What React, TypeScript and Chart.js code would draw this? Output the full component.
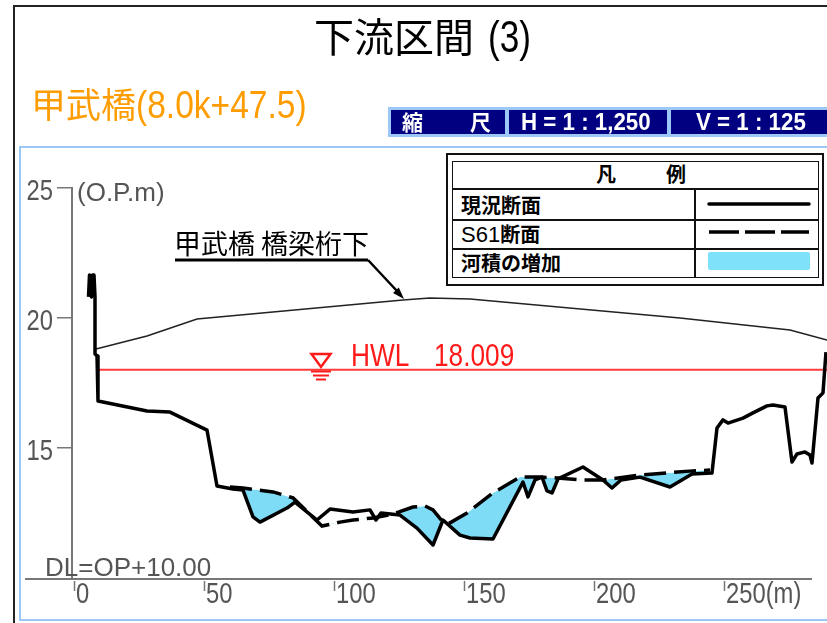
import React, { useEffect, useRef } from 'react';
import { Chart, registerables } from 'chart.js';
Chart.register(...registerables);

// ---- data (m, O.P.m) ----
const currentX = [5.58, 5.96, 6.73, 7.12, 7.69, 8.08, 8.08, 8.85, 9.23, 28.08, 36.92, 51.15, 55.0, 61.15, 65.0, 68.85, 71.54, 81.92, 85.0, 93.46, 98.46, 107.31, 113.85, 116.15, 118.08, 125.38, 131.92, 138.08, 141.92, 148.46, 152.31, 161.15, 172.69, 174.62, 177.31, 180.0, 181.92, 183.85, 186.15, 195.77, 203.46, 206.92, 210.38, 217.69, 229.23, 237.69, 245.38, 247.31, 249.62, 251.54, 257.31, 261.15, 266.54, 268.85, 273.46, 276.15, 278.08, 281.15, 283.08, 283.85, 286.15, 288.08, 289.23];
const currentY = [20.81, 21.65, 20.81, 21.65, 21.65, 20.81, 18.62, 18.54, 16.81, 16.42, 16.38, 15.69, 13.54, 13.42, 13.38, 12.35, 12.15, 12.69, 12.92, 12.23, 12.65, 12.54, 12.62, 12.23, 12.5, 12.42, 11.92, 11.27, 12.23, 11.65, 11.54, 11.5, 13.69, 13.12, 13.77, 13.88, 13.35, 13.27, 13.81, 14.27, 13.77, 13.46, 13.77, 13.88, 13.5, 14.0, 14.04, 15.77, 16.08, 15.96, 16.15, 16.35, 16.62, 16.65, 16.58, 14.46, 14.77, 14.85, 14.73, 14.42, 16.92, 17.12, 18.69];
const s61X = [60.0, 65.0, 76.54, 84.23, 95.38, 102.31, 107.31, 115.0, 122.69, 130.38, 135.0, 138.08, 141.92, 144.62, 151.15, 161.15, 171.54, 179.23, 185.77, 195.38, 203.46, 217.69, 238.08, 244.62];
const s61Y = [13.5, 13.46, 13.31, 13.08, 12.0, 12.15, 12.23, 12.31, 12.46, 12.73, 12.77, 12.62, 12.15, 12.12, 12.5, 13.27, 13.88, 13.88, 13.85, 13.77, 13.77, 13.96, 14.12, 14.15];
const bridgeX = [8.46, 28.08, 47.31, 126.54, 136.92, 152.31, 233.08, 275.38, 289.62];
const bridgeY = [18.81, 19.31, 19.96, 20.69, 20.77, 20.73, 20.0, 19.54, 19.15];
const HWL = 18.009;
const hwlX = [9.23, 289.62];
const xTicks = [0, 50, 100, 150, 200, 250];
const yTicks = [15, 20, 25];
const xTickLabels = ['0', '50', '100', '150', '200', '250(m)'];
const xAxisRange = [-18.85, 283.85];

const BLUE = '#7fdcf7';
const CJK = "'Noto Sans CJK JP', sans-serif";
const SANS = "'Liberation Sans', Arial, 'Noto Sans CJK JP', sans-serif";
const GRAY = '#555';
const NARROW_SCALE = 0.82;

const pts = (xs: number[], ys: number[]) => xs.map((x, i) => ({ x, y: ys[i] }));

const axisPlugin = {
  id: 'axisLines',
  afterDraw(chart: any) {
    const { ctx, scales, chartArea } = chart;
    const x = scales.x, y = scales.y;
    const y0 = y.getPixelForValue(10) + 1;
    ctx.save();
    ctx.strokeStyle = '#777';
    ctx.lineWidth = 2;
    ctx.beginPath();
    ctx.moveTo(x.getPixelForValue(xAxisRange[0]), y0);
    ctx.lineTo(x.getPixelForValue(xAxisRange[1]), y0);
    ctx.stroke();
    ctx.lineWidth = 1.5;
    xTicks.forEach((v) => {
      const px = Math.round(x.getPixelForValue(v)) + 0.5;
      ctx.beginPath();
      ctx.moveTo(px, y0 + 2);
      ctx.lineTo(px, y0 + 12);
      ctx.stroke();
    });
    // tick labels (condensed)
    ctx.fillStyle = GRAY;
    ctx.font = `29px ${SANS}`;
    ctx.textBaseline = 'alphabetic';
    xTicks.forEach((v, i) => {
      const px = x.getPixelForValue(v);
      ctx.save();
      ctx.translate(px + 2, y0 + 24);
      ctx.scale(NARROW_SCALE, 1);
      ctx.textAlign = 'left';
      ctx.fillText(xTickLabels[i], 0, 0);
      ctx.restore();
    });
    yTicks.forEach((v) => {
      const py = y.getPixelForValue(v);
      ctx.save();
      ctx.translate(chartArea.left - 19, py + 12);
      ctx.scale(NARROW_SCALE, 1);
      ctx.textAlign = 'right';
      ctx.fillText(String(v), 0, 0);
      ctx.restore();
    });
    ctx.restore();
  },
};

const abs = (s: React.CSSProperties): React.CSSProperties => ({ position: 'absolute', whiteSpace: 'nowrap', lineHeight: 1, ...s });
const narrow = (scale: number): React.CSSProperties => ({ display: 'inline-block', transform: `scaleX(${scale})`, transformOrigin: 'left center' });

export default function App() {
  const ref = useRef<HTMLCanvasElement>(null);
  useEffect(() => {
    const chart = new Chart(ref.current!, {
      type: 'line',
      data: {
        datasets: [
          {
            label: '現況断面',
            data: pts(currentX, currentY),
            borderColor: '#000',
            borderWidth: 3.5,
            pointRadius: 0,
            tension: 0,
            borderJoinStyle: 'round',
            fill: { target: 1, above: 'rgba(0,0,0,0)', below: BLUE },
          },
          {
            label: 'S61断面',
            data: pts(s61X, s61Y),
            borderColor: '#000',
            borderWidth: 3.5,
            borderDash: [22, 8],
            pointRadius: 0,
            tension: 0,
            fill: false,
          },
          {
            label: '甲武橋 橋梁桁下',
            data: pts(bridgeX, bridgeY),
            borderColor: '#222',
            borderWidth: 1.6,
            pointRadius: 0,
            tension: 0,
            fill: false,
          },
          {
            label: 'HWL',
            data: hwlX.map((x) => ({ x, y: HWL })),
            borderColor: '#ff3b3b',
            borderWidth: 2,
            pointRadius: 0,
            fill: false,
          },
        ],
      } as any,
      options: {
        animation: false,
        responsive: false,
        devicePixelRatio: 1,
        layout: { padding: { left: 0, right: 0, top: 188, bottom: 0 } },
        plugins: {
          legend: { display: false },
          tooltip: { enabled: false },
          filler: { drawTime: 'beforeDatasetsDraw' },
        } as any,
        scales: {
          x: {
            type: 'linear',
            min: -0.769,
            max: 289.62,
            afterBuildTicks: (s: any) => { s.ticks = xTicks.map((v) => ({ value: v })); },
            afterFit: (s: any) => { s.height = 45; },
            grid: { display: false, drawTicks: false },
            border: { display: false },
            ticks: { display: false },
          },
          y: {
            type: 'linear',
            min: 10,
            max: 25,
            afterBuildTicks: (s: any) => { s.ticks = yTicks.map((v) => ({ value: v })); },
            afterFit: (s: any) => { s.width = 72; },
            grid: { drawOnChartArea: false, drawTicks: true, tickLength: 15, color: '#777', lineWidth: 1.5 },
            border: { display: true, color: '#777', width: 2 },
            ticks: { display: false },
          },
        } as any,
      },
      plugins: [axisPlugin],
    });
    return () => chart.destroy();
  }, []);

  return (
    <div style={{ position: 'absolute', left: 0, top: 0, width: 827, height: 623, overflow: 'hidden', background: '#fff' }}>
      {/* frames */}
      <div style={{ position: 'absolute', left: 13, top: 5, width: 2, height: 640, background: '#222' }} />
      <div style={{ position: 'absolute', left: 13, top: 5, width: 840, height: 2, background: '#222' }} />
      <div style={{ position: 'absolute', left: 19, top: 146, width: 2, height: 475, background: '#9cc8f8' }} />
      <div style={{ position: 'absolute', left: 19, top: 146, width: 840, height: 2, background: '#9cc8f8' }} />
      <div style={{ position: 'absolute', left: 19, top: 619, width: 840, height: 2, background: '#9cc8f8' }} />

      <canvas ref={ref} width={827} height={623} style={{ position: 'absolute', left: 0, top: 0, width: 827, height: 623 }} />

      {/* title */}
      <div style={abs({ left: 314, top: 15, fontSize: 40, fontFamily: CJK, color: '#000' })}>
        下流区間<span style={{ fontFamily: SANS, fontSize: 44, marginLeft: 14, ...narrow(0.8) }}>(3)</span>
      </div>
      <div style={abs({ left: 31, top: 85, fontSize: 35, fontFamily: CJK, color: '#ff9c00' })}>
        甲武橋<span style={{ fontFamily: SANS, fontSize: 39, ...narrow(0.86) }}>(8.0k+47.5)</span>
      </div>

      {/* scale bar */}
      <div style={{ position: 'absolute', left: 388, top: 107, width: 460, height: 30, background: '#9cc8f8' }} />
      <div style={{ position: 'absolute', left: 391, top: 110, width: 114, height: 24, background: '#000080' }} />
      <div style={{ position: 'absolute', left: 509, top: 110, width: 158, height: 24, background: '#000080' }} />
      <div style={{ position: 'absolute', left: 671, top: 110, width: 170, height: 24, background: '#000080' }} />
      <div style={abs({ left: 402, top: 111, fontSize: 21, fontWeight: 'bold', fontFamily: CJK, color: '#fff' })}>縮</div>
      <div style={abs({ left: 470, top: 111, fontSize: 21, fontWeight: 'bold', fontFamily: CJK, color: '#fff' })}>尺</div>
      <div style={abs({ left: 521, top: 110, fontSize: 24, fontWeight: 'bold', fontFamily: SANS, color: '#fff', transform: 'scaleX(0.93)', transformOrigin: 'left top' })}>H = 1 : 1,250</div>
      <div style={abs({ left: 696, top: 110, fontSize: 24, fontWeight: 'bold', fontFamily: SANS, color: '#fff', transform: 'scaleX(0.93)', transformOrigin: 'left top' })}>V = 1 : 125</div>

      {/* legend */}
      <div style={{ position: 'absolute', left: 446, top: 153, width: 374, height: 129, border: '2px solid #111', background: '#fff' }} />
      <div style={{ position: 'absolute', left: 452, top: 161, width: 365, height: 115, border: '1.5px solid #111' }} />
      <div style={{ position: 'absolute', left: 452, top: 188, width: 367, height: 1.5, background: '#111' }} />
      <div style={{ position: 'absolute', left: 452, top: 219, width: 367, height: 1.5, background: '#111' }} />
      <div style={{ position: 'absolute', left: 452, top: 248, width: 367, height: 1.5, background: '#111' }} />
      <div style={{ position: 'absolute', left: 694, top: 188, width: 1.5, height: 90, background: '#111' }} />
      <div style={abs({ left: 596, top: 164, fontSize: 20, fontWeight: 'bold', fontFamily: CJK })}>凡</div>
      <div style={abs({ left: 666, top: 164, fontSize: 20, fontWeight: 'bold', fontFamily: CJK })}>例</div>
      <div style={abs({ left: 461, top: 195, fontSize: 20, fontWeight: 'bold', fontFamily: CJK })}>現況断面</div>
      <div style={abs({ left: 461, top: 224, fontSize: 20, fontWeight: 'bold', fontFamily: CJK })}>
        <span style={{ fontFamily: SANS, fontWeight: 'normal', fontSize: 22 }}>S61</span>断面
      </div>
      <div style={abs({ left: 461, top: 253, fontSize: 20, fontWeight: 'bold', fontFamily: CJK })}>河積の増加</div>
      <div style={{ position: 'absolute', left: 708, top: 252, width: 102, height: 18, background: '#80e2fa', borderRadius: 2 }} />

      {/* axis texts */}
      <div style={abs({ left: 77, top: 179, fontSize: 26, fontFamily: SANS, color: GRAY })}>(O.P.m)</div>
      <div style={abs({ left: 45, top: 554, fontSize: 26, fontFamily: SANS, color: GRAY })}>DL=OP+10.00</div>

      {/* annotations */}
      <div style={abs({ left: 174, top: 229, fontSize: 27, fontFamily: CJK, color: '#000' })}>甲武橋 橋梁桁下</div>
      <div style={abs({ left: 351, top: 339, fontSize: 32, fontFamily: SANS, color: '#ff1a1a', transform: 'scaleX(0.82)', transformOrigin: 'left top' })}>HWL</div>
      <div style={abs({ left: 434, top: 339, fontSize: 32, fontFamily: SANS, color: '#ff1a1a', transform: 'scaleX(0.82)', transformOrigin: 'left top' })}>18.009</div>

      <svg width={827} height={623} style={{ position: 'absolute', left: 0, top: 0, pointerEvents: 'none' }}>
        <line x1={175} y1={260} x2={368} y2={260} stroke="#000" strokeWidth={3} />
        <line x1={368} y1={260} x2={397} y2={291} stroke="#000" strokeWidth={2.5} />
        <polygon points="404,299 393,292.9 398.8,287.5" fill="#000" />
        <polygon points="311.5,354 330.5,354 321,367" fill="none" stroke="#ff1a1a" strokeWidth={2.5} />
        <line x1={311} y1={371.5} x2={331} y2={371.5} stroke="#ff1a1a" strokeWidth={2} />
        <line x1={313} y1={375.5} x2={329} y2={375.5} stroke="#ff1a1a" strokeWidth={2} />
        <line x1={316} y1={379.5} x2={326} y2={379.5} stroke="#ff1a1a" strokeWidth={2} />
        <line x1={709} y1={204} x2={809} y2={204} stroke="#000" strokeWidth={3.5} strokeLinecap="round" />
        <line x1={709} y1={232} x2={809} y2={232} stroke="#000" strokeWidth={3.5} strokeDasharray="30 6" />
      </svg>
    </div>
  );
}
